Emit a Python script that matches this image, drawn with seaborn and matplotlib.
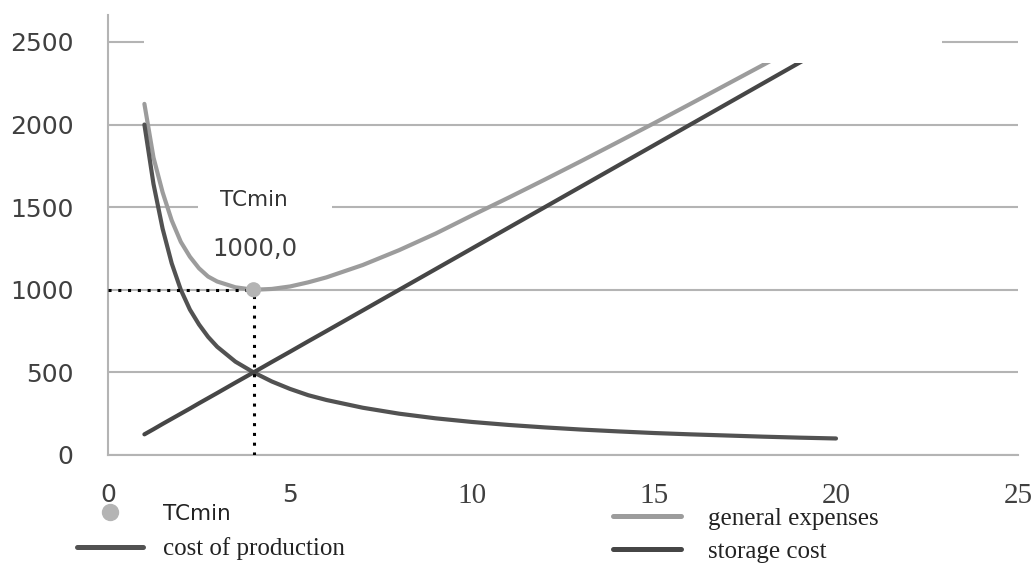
import matplotlib
matplotlib.use("Agg")
import matplotlib.pyplot as plt
import seaborn as sns
import pandas as pd
from matplotlib.lines import Line2D
from matplotlib.patches import Rectangle

# --- dados ---
lote = [1, 1.25, 1.5, 1.75, 2, 2.25, 2.5, 2.75, 3, 3.5, 4, 4.5, 5, 5.5, 6, 7, 8, 9, 10,
        11, 12, 13, 14, 15, 16, 17, 18, 19, 20]
custo_producao = [2000, 1640, 1370, 1160, 1000, 880, 790, 715, 655, 565, 500, 445, 400, 362, 333,
                  286, 250, 222, 200, 182, 167, 154, 143, 133, 125, 118, 111, 105, 100]
custo_armazenagem = [125, 156, 188, 219, 250, 281, 313, 344, 375, 438, 500, 563, 625, 688, 750,
                     875, 1000, 1125, 1250, 1375, 1500, 1625, 1750, 1875, 2000, 2125, 2250, 2375, 2500]
despesas_gerais = [2125, 1800, 1590, 1420, 1290, 1200, 1130, 1080, 1050, 1015, 1000, 1005, 1020, 1045, 1075,
                   1150, 1240, 1340, 1450, 1557, 1667, 1779, 1893, 2008, 2125, 2243, 2361, 2480, 2600]
tc_min_x = [4]
tc_min_y = [1000]

df = pd.DataFrame({
    'lote': lote,
    'producao': custo_producao,
    'armazenagem': custo_armazenagem,
    'gerais': despesas_gerais,
})

sns.set_style("white")
plt.rcParams['font.family'] = ['DejaVu Sans']

COR_CLARA = '#9c9c9c'
COR_ESCURA = '#525252'
COR_ARMAZ = '#464646'
COR_GRADE = '#b4b4b4'

fig = plt.figure(figsize=(10.32, 5.64), dpi=100)
ax = fig.add_axes([108 / 1032, 1 - 455 / 564, 910 / 1032, 440 / 564])

estilo = dict(lw=3, sort=False, zorder=3, solid_capstyle='round', solid_joinstyle='round')
sns.lineplot(data=df, x='lote', y='gerais', ax=ax, color=COR_CLARA, **estilo)
sns.lineplot(data=df, x='lote', y='producao', ax=ax, color=COR_ESCURA, **estilo)
sns.lineplot(data=df, x='lote', y='armazenagem', ax=ax, color=COR_ARMAZ, **estilo)

# linhas pontilhadas até o ponto mínimo
ax.plot([0, tc_min_x[0]], [tc_min_y[0], tc_min_y[0]], color='black', lw=2.2,
        ls=(0, (1, 2.2)), zorder=4)
ax.plot([tc_min_x[0], tc_min_x[0]], [0, tc_min_y[0]], color='black', lw=2.2,
        ls=(0, (1, 2.2)), zorder=4)
sns.scatterplot(x=tc_min_x, y=tc_min_y, ax=ax, color='#b4b4b4', s=120,
                edgecolor='none', zorder=5)

ax.text(4.04, 1247, '1000,0', fontsize=17.5, color='#404040', ha='center', va='center', zorder=6)
ax.text(4.0, 1545, 'TCmin', fontsize=15.5, color='#333333', ha='center', va='center', zorder=6)
# caixa branca atrás do rótulo TCmin (interrompe a grade)
ax.add_patch(Rectangle((0.0989, 0.545), 0.147, 0.04, transform=ax.transAxes,
                       facecolor='white', edgecolor='none', zorder=1))

# área do título (fundo branco que cobre o topo)
ax.add_patch(Rectangle((0.0396, 0.891), 0.877, 0.2, transform=ax.transAxes,
                       facecolor='white', edgecolor='none', zorder=5, clip_on=False))

ax.set_xlim(0, 25)
ax.set_ylim(0, 2663)
ax.set_xticks([0, 5, 10, 15, 20, 25])
ax.set_yticks([0, 500, 1000, 1500, 2000, 2500])
ax.yaxis.grid(True, color=COR_GRADE, lw=1.5, zorder=0.5)
ax.set_axisbelow(True)
ax.set_xlabel('')
ax.set_ylabel('')

for lado in ['top', 'right']:
    ax.spines[lado].set_visible(False)
for lado in ['left', 'bottom']:
    ax.spines[lado].set_color(COR_GRADE)
    ax.spines[lado].set_linewidth(1.5)

ax.tick_params(axis='y', length=10, width=1.5, color=COR_GRADE, labelsize=18,
               labelcolor='#404040', pad=15)
ax.tick_params(axis='x', length=5, width=1.2, color=COR_GRADE, labelsize=18,
               labelcolor='#404040', pad=15)
for lbl in ax.get_xticklabels():
    if lbl.get_text() not in ('0', '5'):
        lbl.set_fontfamily('Liberation Serif')
        lbl.set_fontsize(21)

# --- legenda ---
serif = {'family': 'Liberation Serif', 'size': 18}
h_tc = Line2D([], [], marker='o', ls='none', color='#b4b4b4', markersize=11.5)
h_prod = Line2D([], [], color=COR_ESCURA, lw=3.6)
h_gerais = Line2D([], [], color=COR_CLARA, lw=3.6)
h_armaz = Line2D([], [], color=COR_ARMAZ, lw=3.6)

leg1 = fig.legend([h_tc], ['TCmin'], loc='center left', bbox_to_anchor=(95 / 1032, 1 - 514 / 564),
                  frameon=False, handlelength=1.4, handletextpad=1.75, borderpad=0,
                  borderaxespad=0, prop={'family': 'DejaVu Sans', 'size': 15.5})
leg2 = fig.legend([h_prod], ['cost of production'], loc='center left',
                  bbox_to_anchor=(77 / 1032, 1 - 549 / 564), frameon=False,
                  handlelength=2.65, handletextpad=0.8, borderpad=0, borderaxespad=0, prop=serif)
leg3 = fig.legend([h_gerais, h_armaz], ['general expenses', 'storage cost'], loc='center left',
                  bbox_to_anchor=(613 / 1032, 1 - 535 / 564), frameon=False,
                  handlelength=2.7, handletextpad=1.08, borderpad=0, borderaxespad=0,
                  labelspacing=0.42, prop=serif)
for lg in (leg1, leg2, leg3):
    for t in lg.get_texts():
        t.set_color('#222222')

fig.savefig('out.png', dpi=100)
